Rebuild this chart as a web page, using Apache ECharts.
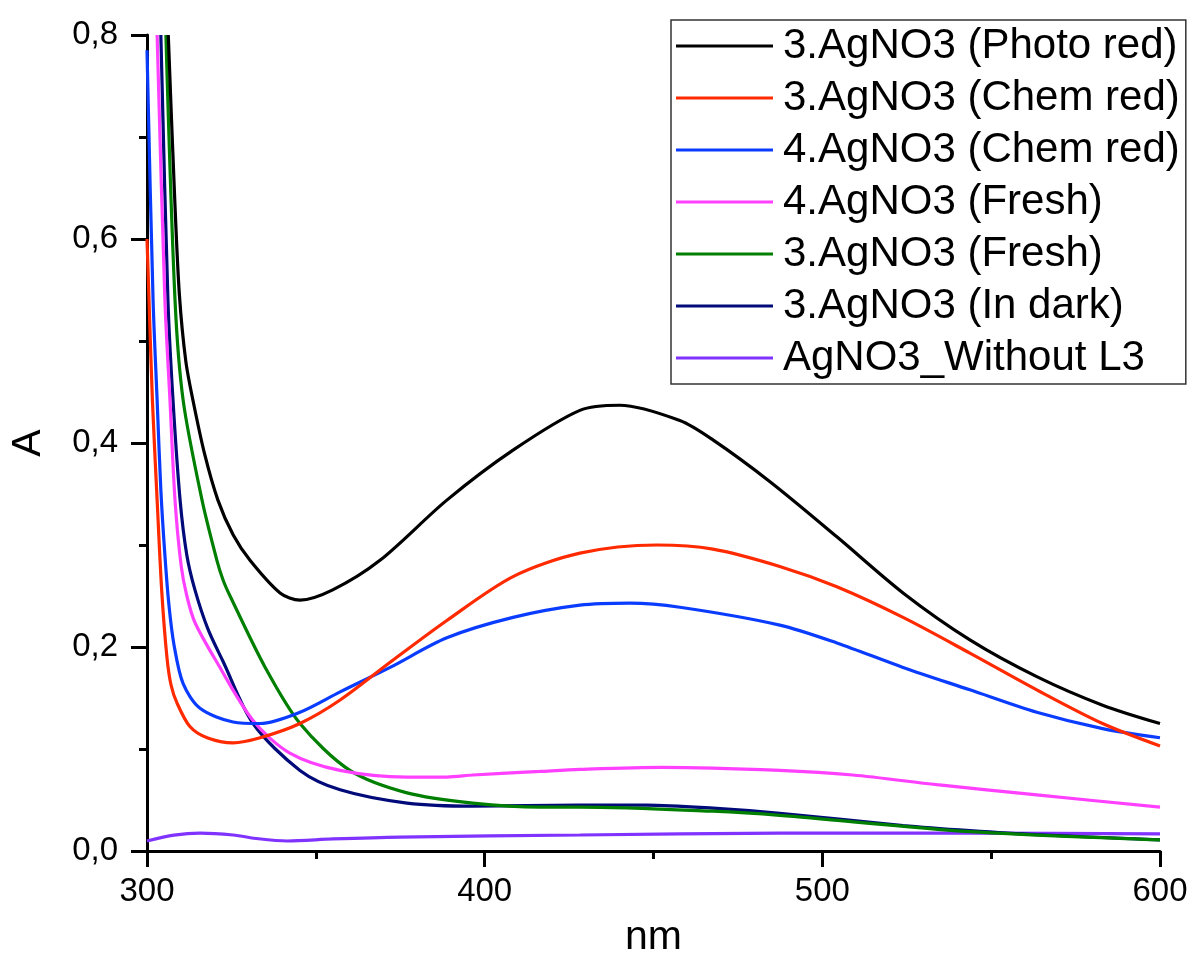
<!DOCTYPE html>
<html>
<head>
<meta charset="utf-8">
<script src="https://cdn.jsdelivr.net/npm/echarts@6/dist/echarts.min.js"></script>
<style>
html,body{margin:0;padding:0;background:#fff;}
#chart{width:1192px;height:956px;}
</style>
</head>
<body>
<div id="chart"></div>
<script>
// Tick values
var xTicks = [300, 400, 500, 600];
var yTicks = [0, 0.2, 0.4, 0.6, 0.8];

// Series names
var seriesNames = [
  '3.AgNO3 (Photo red)',
  '3.AgNO3 (Chem red)',
  '4.AgNO3 (Chem red)',
  '4.AgNO3 (Fresh)',
  '3.AgNO3 (Fresh)',
  '3.AgNO3 (In dark)',
  'AgNO3_Without L3'
];
var seriesColors = ['#000000', '#ff2a00', '#0a3cff', '#ff40ff', '#007f00', '#000a78', '#8033ff'];

// [nm, A] readings
var photoRed3 = [[306.3,0.80],[308.2,0.64],[309.6,0.545],[311.5,0.48],[313.6,0.442],[317,0.39],[321,0.344],[325.5,0.31],[330.5,0.285],[339.4,0.253],[345.3,0.246],[355,0.256],[369,0.285],[388.8,0.344],[408.4,0.393],[428.2,0.432],[440,0.437],[457.8,0.422],[467.6,0.403],[484.5,0.362],[504.3,0.308],[523.9,0.253],[543.7,0.207],[563.5,0.171],[583,0.143],[600,0.125]];
var chemRed3 = [[300,0.60],[300.6,0.54],[301.6,0.442],[303,0.344],[304.4,0.253],[305.9,0.19],[307.1,0.163],[308.9,0.145],[312.7,0.122],[317.8,0.111],[325.5,0.106],[333.5,0.111],[345.3,0.125],[357.2,0.148],[372,0.185],[388.8,0.226],[408.4,0.269],[428.2,0.292],[451,0.300],[467.6,0.296],[487.4,0.279],[504.3,0.259],[523.9,0.229],[543.7,0.194],[563.5,0.158],[583,0.125],[600,0.103]];
var chemRed4 = [[300,0.785],[301.8,0.54],[303,0.442],[304.1,0.354],[305.3,0.290],[306.5,0.241],[308,0.202],[310.7,0.164],[315.7,0.140],[325.5,0.1265],[333.5,0.125],[345.3,0.136],[357.2,0.156],[372,0.180],[388.8,0.209],[408.4,0.229],[428.2,0.241],[443,0.243],[457.8,0.239],[487.4,0.2215],[504.3,0.204],[523.9,0.180],[543.7,0.158],[563.5,0.136],[583,0.120],[600,0.111]];
var fresh4 = [[303.0,0.80],[305.3,0.54],[306.8,0.442],[308.3,0.344],[310.1,0.280],[311.8,0.250],[314.2,0.224],[320.7,0.185],[331.4,0.128],[342.3,0.096],[357.2,0.079],[377,0.0725],[388.8,0.0725],[396.5,0.0745],[416.4,0.078],[428.2,0.080],[452.8,0.082],[487.4,0.079],[509,0.0745],[533.9,0.065],[563.5,0.055],[600,0.043]];
var fresh3 = [[305.6,0.80],[308.3,0.54],[310.7,0.442],[316.3,0.344],[320.7,0.285],[322.5,0.266],[324.6,0.250],[335,0.180],[345.3,0.125],[360.1,0.079],[377,0.057],[396.5,0.047],[416.4,0.043],[428.2,0.043],[467.6,0.039],[487.4,0.035],[543.7,0.019],[600,0.011]];
var dark3 = [[304.1,0.80],[306.2,0.54],[307.7,0.442],[309.8,0.344],[311.8,0.290],[314.2,0.256],[318,0.218],[322.5,0.186],[331.4,0.125],[345.3,0.079],[357.2,0.060],[377,0.047],[396.5,0.044],[428.2,0.045],[448,0.045],[467.6,0.042],[487.4,0.037],[523.9,0.025],[543.7,0.020],[563.5,0.016],[600,0.011]];
var withoutL3 = [[300,0.0098],[308,0.0155],[315.7,0.0176],[325.5,0.0157],[333,0.012],[341.5,0.0098],[355,0.0118],[374.9,0.0137],[428.2,0.0157],[487.4,0.0176],[543.7,0.0176],[600,0.0167]];

var allData = [photoRed3, chemRed3, chemRed4, fresh4, fresh3, dark3, withoutL3];

var FONT = "'Liberation Sans', Arial, sans-serif";
var chart = echarts.init(document.getElementById('chart'), null, {renderer: 'canvas'});

var series = allData.map(function (d, i) {
  return {
    name: seriesNames[i],
    type: 'line',
    data: d,
    symbol: 'none',
    smooth: 0.3,
    clip: true,
    lineStyle: {color: seriesColors[i], width: 3.2},
    itemStyle: {color: seriesColors[i]},
    z: 10 - i
  };
});

chart.setOption({
  animation: false,
  backgroundColor: '#ffffff',
  grid: {left: 147, right: 32, top: 35, bottom: 105, containLabel: false, outerBoundsMode: 'none'},
  xAxis: {
    type: 'value',
    min: xTicks[0], max: xTicks[xTicks.length - 1], interval: 100,
    name: 'nm', nameLocation: 'middle', nameGap: 66,
    nameTextStyle: {fontFamily: FONT, fontSize: 41, color: '#000'},
    axisLine: {show: true, onZero: false, lineStyle: {color: '#000', width: 3}},
    axisTick: {show: true, inside: false, length: 16, lineStyle: {color: '#000', width: 3}},
    minorTick: {show: true, splitNumber: 2, length: 8, lineStyle: {color: '#000', width: 3}},
    axisLabel: {fontFamily: FONT, fontSize: 33, color: '#000', margin: 24},
    splitLine: {show: false}
  },
  yAxis: {
    type: 'value',
    min: yTicks[0], max: yTicks[yTicks.length - 1], interval: 0.2,
    name: 'A', nameLocation: 'middle', nameGap: 98, nameRotate: 90,
    nameTextStyle: {fontFamily: FONT, fontSize: 41, color: '#000'},
    axisLine: {show: true, onZero: false, lineStyle: {color: '#000', width: 3}},
    axisTick: {show: true, inside: false, length: 16, lineStyle: {color: '#000', width: 3}},
    minorTick: {show: true, splitNumber: 2, length: 8, lineStyle: {color: '#000', width: 3}},
    axisLabel: {
      fontFamily: FONT, fontSize: 33, color: '#000', margin: 29,
      formatter: function (v) { return v.toFixed(1).replace('.', ','); }
    },
    splitLine: {show: false}
  },
  legend: {
    orient: 'vertical',
    left: 671, top: 20,
    padding: [0, 6, 0, 5],
    itemGap: 0,
    icon: 'rect',
    itemWidth: 97,
    itemHeight: 3,
    borderColor: '#333',
    borderWidth: 1.5,
    backgroundColor: '#fff',
    data: seriesNames,
    textStyle: {fontFamily: FONT, fontSize: 42, color: '#000', lineHeight: 52, padding: [0, 0, 0, 5]}
  },
  series: series
});
</script>
</body>
</html>
